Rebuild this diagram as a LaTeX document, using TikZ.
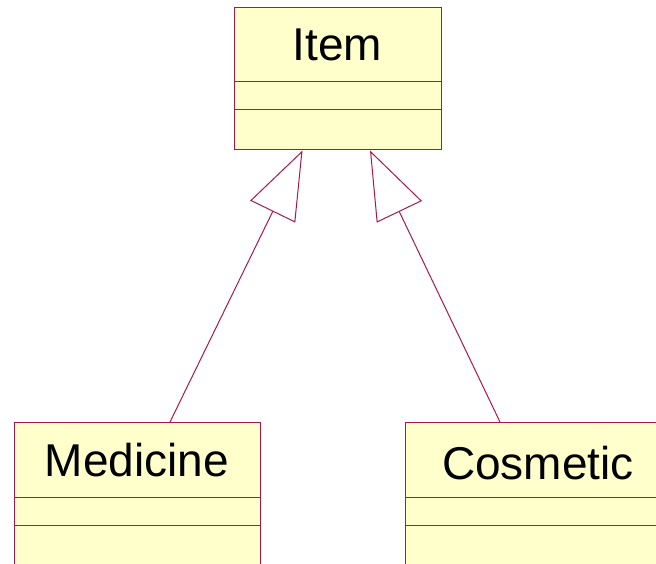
\documentclass[tikz,border=0pt]{standalone}
\usepackage{fontspec}
\setmainfont{Liberation Sans}
\usetikzlibrary{arrows.meta}
\definecolor{umlfill}{HTML}{FFFFCC}
\definecolor{umlline}{HTML}{A8184C}
\begin{document}
\begin{tikzpicture}[x=1pt,y=-1pt,
	classbox/.style={draw=umlline,fill=umlfill,line width=1pt,rectangle,inner sep=0pt},
	classname/.style={font=\fontsize{46}{46}\selectfont,inner sep=0pt,anchor=base},
	compart/.style={draw=umlline,line width=1pt},
	inherit/.style={-{Triangle[open,length=68pt,width=50pt]},draw=umlline,line width=1pt}]
	\useasboundingbox (0,0) rectangle (656,564);
	\clip (0,0) rectangle (656,564);

	\node[classbox,minimum width=207pt,minimum height=142pt] (item) at (337.5,79) {};
	\node[classbox,minimum width=246pt,minimum height=178pt] (medicine) at (137,511.5) {};
	\node[classbox,minimum width=267pt,minimum height=178pt] (cosmetic) at (538.5,511.5) {};

	\node[classname] (itemname) at (337.5,61) {Item};
	\node[classname] (medicinename) at (137,476) {Medicine};
	\node[classname] (cosmeticname) at (538,479) {Cosmetic};

	% compartments
	\foreach \cls/\a/\b in {item/-74/-102,medicine/-75/-103.5,cosmetic/-75/-103.5}{
		\draw[compart] ([yshift=\a pt]\cls.north west) -- ([yshift=\a pt]\cls.north east);
		\draw[compart] ([yshift=\b pt]\cls.north west) -- ([yshift=\b pt]\cls.north east);
	}

	% generalisations
	\coordinate (medtop) at ([xshift=33pt]medicine.north);
	\coordinate (costop) at ([xshift=-38.5pt]cosmetic.north);
	\coordinate (itemleft) at ([xshift=-35pt]item.south);
	\coordinate (itemright) at ([xshift=32.5pt]item.south);
	\draw[inherit] (medtop) -- (itemleft);
	\draw[inherit] (costop) -- (itemright);
\end{tikzpicture}
\end{document}
